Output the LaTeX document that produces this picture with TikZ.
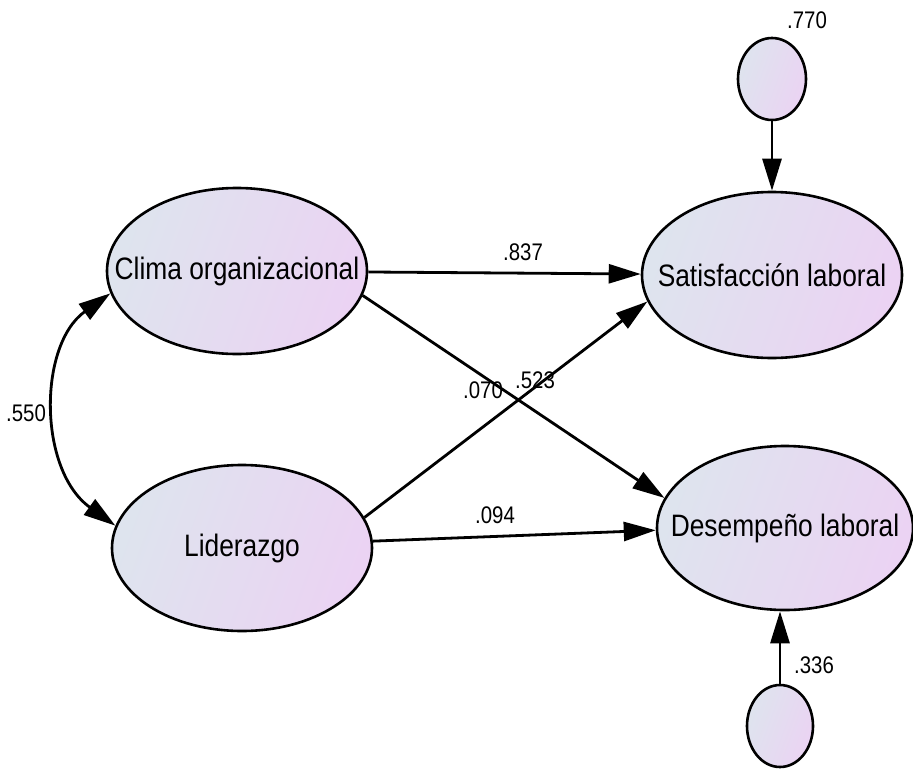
\documentclass[tikz,border=0pt]{standalone}
\usepackage{fontspec}
\newfontfamily\amosfont[FakeStretch=0.85]{Liberation Sans}
\usetikzlibrary{shapes.geometric,arrows.meta}
\definecolor{shadeL}{RGB}{222,228,238}
\definecolor{shadeR}{RGB}{235,211,243}
\tikzset{
  latent/.style={ellipse, draw=black, line width=2.6pt, inner sep=0pt,
    left color=shadeL, right color=shadeR, shading angle=70},
  bigvar/.style={latent, minimum width=260pt, minimum height=166pt},
  errvar/.style={latent, minimum width=68pt, minimum height=82pt},
  vname/.style={font=\amosfont\fontsize{31}{31}\selectfont},
  coef/.style={font=\amosfont\fontsize{24}{24}\selectfont, inner sep=0pt},
  regpath/.style={line width=2.8pt, -{Triangle[length=32pt,width=19pt]}},
  covpath/.style={line width=2.8pt,
    {Triangle[length=32pt,width=19pt]}-{Triangle[length=32pt,width=19pt]}}
}
\begin{document}
\begin{tikzpicture}[x=1pt,y=-1pt]
\useasboundingbox (0,0) rectangle (913,771);

% latent variables
\node[bigvar, label={[vname]center:Clima organizacional}] (clima) at (237,271) {};
\node[bigvar, label={[vname]center:Liderazgo}] (lider) at (242,548) {};
\node[bigvar, label={[vname]center:Satisfacción laboral}] (satis) at (772,275) {};
\node[bigvar, minimum width=256pt, minimum height=164pt,
      label={[vname]center:Desempeño laboral}] (desemp) at (785,528) {};

% residual terms
\node[errvar] (e1) at (772,79) {};
\node[errvar, minimum width=66pt] (e2) at (780,726) {};

% structural paths
\draw[regpath] (clima) -- (satis);
\draw[regpath] (clima.-11) -- (desemp.166);
\draw[regpath] (lider.14) -- (satis.192);
\draw[regpath] (lider.3) -- (desemp.181);
\draw[regpath] (e1) -- (e1 |- satis.north);
\draw[regpath] (e2) -- (e2 |- desemp.south);

% covariance
\draw[covpath] (clima.190) .. controls (38,345) and (38,470) .. (lider.170);

% estimates
\node[coef] (k837) at (523,252) {.837};
\node[coef] (k070) at (483,390) {.070};
\node[coef] (k523) at (535,380) {.523};
\node[coef] (k094) at (495,515) {.094};
\node[coef] (k550) at (26,413) {.550};
\node[coef] (k770) at (807,20) {.770};
\node[coef] (k336) at (814,665) {.336};
\end{tikzpicture}
\end{document}
